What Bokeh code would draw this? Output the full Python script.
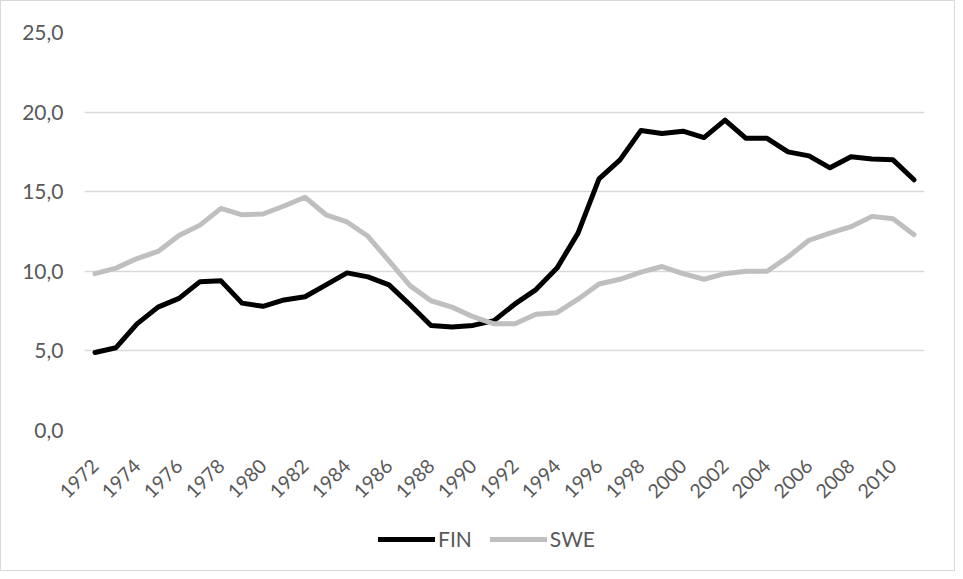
import numpy as np
from bokeh.plotting import figure
from bokeh.models import Range1d, FixedTicker, Legend, LegendItem
from bokeh.layouts import column
from bokeh.embed import file_html
from bokeh.resources import INLINE

years = list(range(1972, 2012))
fin = [4.9, 5.2, 6.7, 7.75, 8.3, 9.35, 9.4, 8.0, 7.8, 8.2,
       8.4, 9.15, 9.9, 9.65, 9.15, 7.9, 6.6, 6.5, 6.6, 6.9,
       7.95, 8.85, 10.2, 12.4, 15.8, 17.0, 18.85, 18.65, 18.8, 18.4,
       19.5, 18.35, 18.35, 17.5, 17.25, 16.5, 17.2, 17.05, 17.0, 15.75]
swe = [9.85, 10.2, 10.8, 11.25, 12.25, 12.9, 13.95, 13.55, 13.6, 14.1,
       14.65, 13.55, 13.1, 12.2, 10.65, 9.1, 8.15, 7.75, 7.15, 6.7,
       6.7, 7.3, 7.4, 8.25, 9.2, 9.5, 9.95, 10.3, 9.85, 9.5,
       9.85, 10.0, 10.0, 10.9, 11.95, 12.4, 12.8, 13.45, 13.3, 12.3]
series_names = ["FIN", "SWE"]
series_colors = ["#000000", "#bfbfbf"]
y_ticks = [0, 5, 10, 15, 20, 25]
y_tick_labels = ["0,0", "5,0", "10,0", "15,0", "20,0", "25,0"]
x_ticks = list(range(1972, 2011, 2))

FONT = "Lato"
TXT = "#595959"

p = figure(width=953, height=515, output_backend="svg", toolbar_location=None,
           x_range=Range1d(1971.5, 2011.5), y_range=Range1d(0, 25),
           min_border_left=83, min_border_right=30, min_border_top=31,
           min_border_bottom=86)
p.outline_line_color = None
p.xgrid.grid_line_color = None
p.ygrid.grid_line_color = "#d9d9d9"
p.ygrid.grid_line_width = 1.3
p.ygrid.ticker = FixedTicker(ticks=y_ticks)

for vals, col in zip([fin, swe], series_colors):
    p.line(years, vals, line_color=col, line_width=5, line_cap="round", line_join="round")

ya = p.yaxis[0]
ya.ticker = FixedTicker(ticks=y_ticks)
ya.major_label_overrides = {t: l for t, l in zip(y_ticks, y_tick_labels)}
ya.axis_line_color = None
ya.major_tick_line_color = None
ya.minor_tick_line_color = None
ya.major_label_standoff = 15
ya.major_label_text_font = FONT
ya.major_label_text_font_size = "21px"
ya.major_label_text_color = TXT

xa = p.xaxis[0]
xa.ticker = FixedTicker(ticks=x_ticks)
xa.major_label_overrides = {t: str(t) for t in x_ticks}
xa.major_label_orientation = np.pi / 4
xa.axis_line_color = None
xa.major_tick_line_color = None
xa.minor_tick_line_color = None
xa.major_label_standoff = 26
xa.major_label_text_font = FONT
xa.major_label_text_font_size = "19.5px"
xa.major_label_text_color = TXT

# legend strip below the chart (its own lines sit far outside its visible y range)
p2 = figure(width=953, height=54, output_backend="svg", toolbar_location=None,
            x_range=p.x_range, y_range=Range1d(-60, -59),
            x_axis_type=None, y_axis_type=None,
            min_border_left=83, min_border_right=30, min_border_top=0, min_border_bottom=0)
p2.outline_line_color = None
p2.xgrid.grid_line_color = None
p2.ygrid.grid_line_color = None
items = []
for name, vals, col in zip(series_names, [fin, swe], series_colors):
    r = p2.line(years, vals, line_color=col, line_width=5, line_cap="round")
    items.append(LegendItem(label=name, renderers=[r]))
legend = Legend(items=items, orientation="horizontal", location=(294, 19),
                border_line_color=None, background_fill_alpha=0,
                glyph_width=57, glyph_height=20, label_standoff=3, spacing=18,
                label_text_font=FONT, label_text_font_size="21px",
                label_text_color=TXT, padding=0, margin=0)
p2.add_layout(legend)

layout = column(p, p2, spacing=0, styles={"border": "1px solid #d9d9d9"})
open("out.html", "w").write(file_html(layout, INLINE))
